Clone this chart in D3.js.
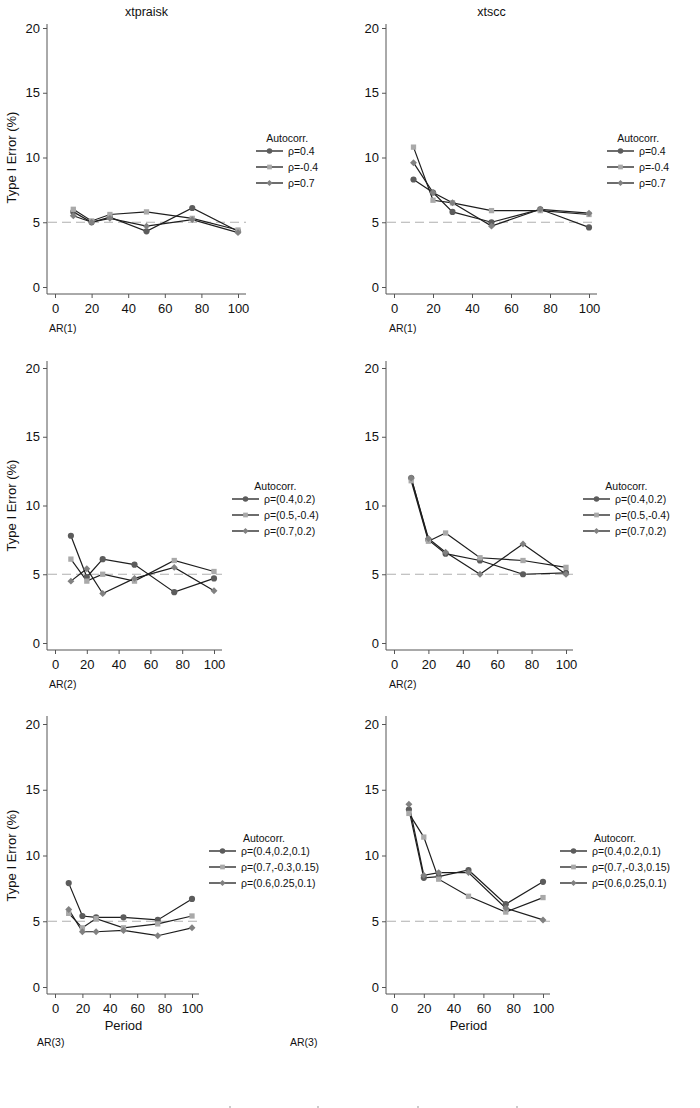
<!DOCTYPE html>
<html>
<head>
<meta charset="utf-8">
<script src="https://cdn.jsdelivr.net/npm/d3@7"></script>
<style>
  html, body { margin: 0; padding: 0; background: #fff; }
  svg { display: block; font-family: "Liberation Sans", Arial, sans-serif; }
</style>
</head>
<body>
<svg id="chart" width="700" height="1108"></svg>
<script>
// x values (panel length T)
const periods = [10, 20, 30, 50, 75, 100];
const yTicks = [0, 5, 10, 15, 20];
const xTicks = [0, 20, 40, 60, 80, 100];

const legendAR1 = ['ρ=0.4', 'ρ=-0.4', 'ρ=0.7'];
const legendAR2 = ['ρ=(0.4,0.2)', 'ρ=(0.5,-0.4)', 'ρ=(0.7,0.2)'];
const legendAR3 = ['ρ=(0.4,0.2,0.1)', 'ρ=(0.7,-0.3,0.15)', 'ρ=(0.6,0.25,0.1)'];

// type I error (%)
const praiskAR1 = [
  [5.8, 5.0, 5.4, 4.3, 6.1, 4.3],
  [6.0, 5.1, 5.6, 5.8, 5.3, 4.4],
  [5.5, 5.0, 5.3, 4.7, 5.2, 4.2]
];
const sccAR1 = [
  [8.3, 7.3, 5.8, 5.0, 6.0, 4.6],
  [10.8, 6.7, 6.5, 5.9, 5.9, 5.6],
  [9.6, 7.3, 6.5, 4.7, 6.0, 5.7]
];
const praiskAR2 = [
  [7.8, 4.8, 6.1, 5.7, 3.7, 4.7],
  [6.1, 4.5, 5.0, 4.5, 6.0, 5.2],
  [4.5, 5.4, 3.6, 4.7, 5.5, 3.8]
];
const sccAR2 = [
  [12.0, 7.5, 6.5, 6.0, 5.0, 5.1],
  [11.8, 7.4, 8.0, 6.2, 6.0, 5.5],
  [12.0, 7.6, 6.6, 5.0, 7.2, 5.0]
];
const praiskAR3 = [
  [7.9, 5.4, 5.3, 5.3, 5.1, 6.7],
  [5.6, 4.5, 5.2, 4.5, 4.8, 5.4],
  [5.9, 4.2, 4.2, 4.3, 3.9, 4.5]
];
const sccAR3 = [
  [13.5, 8.3, 8.4, 8.9, 6.3, 8.0],
  [13.2, 11.4, 8.2, 6.9, 5.7, 6.8],
  [13.9, 8.5, 8.7, 8.7, 6.0, 5.1]
];

// circle, square, diamond (square turned 45 degrees)
const markerShapes = [d3.symbolCircle, d3.symbolSquare, d3.symbolSquare];
const markerTurn = [0, 0, 45];
const markerSizes = [30, 28, 24];
const markerFills = ['#5c5c5c', '#a9a9a9', '#818181'];

const svg = d3.select('#chart');
svg.append('rect').attr('width', 700).attr('height', 1108).attr('fill', '#fff');

// panel geometry
const panels = [
  { data: praiskAR1, labels: legendAR1, title: 'xtpraisk', ar: 'AR(1)', ylab: true,
    ax: 47, x0: 55, x100: 238, xEnd: 246, y0: 287, y20: 28, yTop: 24, arX: 49, arY: 332,
    lx: 256, ly: 151 },
  { data: sccAR1, labels: legendAR1, title: 'xtscc', ar: 'AR(1)', ylab: false,
    ax: 386, x0: 394, x100: 589, xEnd: 597, y0: 287, y20: 28, yTop: 24, arX: 389, arY: 332,
    lx: 607, ly: 151 },
  { data: praiskAR2, labels: legendAR2, title: null, ar: 'AR(2)', ylab: true,
    ax: 47, x0: 55, x100: 214, xEnd: 222, y0: 643, y20: 368, yTop: 361, arX: 49, arY: 688,
    lx: 232, ly: 499 },
  { data: sccAR2, labels: legendAR2, title: null, ar: 'AR(2)', ylab: false,
    ax: 386, x0: 394, x100: 566, xEnd: 573, y0: 643, y20: 368, yTop: 361, arX: 389, arY: 688,
    lx: 583, ly: 499 },
  { data: praiskAR3, labels: legendAR3, title: null, ar: 'AR(3)', ylab: true, period: true,
    ax: 47, x0: 55, x100: 192, xEnd: 199, y0: 987, y20: 724, yTop: 716, arX: 37, arY: 1046,
    lx: 209, ly: 851 },
  { data: sccAR3, labels: legendAR3, title: null, ar: 'AR(3)', ylab: false, period: true,
    ax: 386, x0: 394, x100: 543, xEnd: 550, y0: 987, y20: 724, yTop: 716, arX: 290, arY: 1046,
    lx: 560, ly: 851 }
];

const axisColor = '#555';

function marker(sel, k, scale) {
  sel.attr('d', d3.symbol().type(markerShapes[k]).size(markerSizes[k] * scale))
    .attr('fill', markerFills[k]);
}

panels.forEach(p => {
  const g = svg.append('g');
  const x = d3.scaleLinear().domain([0, 100]).range([p.x0, p.x100]);
  const y = d3.scaleLinear().domain([0, 20]).range([p.y0, p.y20]);
  const axBottom = p.y0 + 7;

  // y axis
  const ya = g.append('g').attr('transform', `translate(${p.ax},0)`)
    .call(d3.axisLeft(y).tickValues(yTicks).tickSize(4).tickPadding(3));
  ya.select('.domain').remove();
  ya.append('line').attr('y1', p.yTop).attr('y2', axBottom).attr('stroke', axisColor);
  ya.selectAll('.tick line').attr('stroke', axisColor);
  ya.selectAll('.tick text').attr('fill', '#111').style('font-size', '13px')
    .style('font-family', '"Liberation Sans", Arial, sans-serif');

  // x axis
  const xa = g.append('g').attr('transform', `translate(0,${axBottom})`)
    .call(d3.axisBottom(x).tickValues(xTicks).tickSize(4).tickPadding(6));
  xa.select('.domain').remove();
  xa.append('line').attr('x1', p.ax).attr('x2', p.xEnd).attr('stroke', axisColor);
  xa.selectAll('.tick line').attr('stroke', axisColor);
  xa.selectAll('.tick text').attr('fill', '#111').style('font-size', '13px')
    .style('font-family', '"Liberation Sans", Arial, sans-serif');

  // 5% reference
  g.append('line')
    .attr('x1', p.ax + 1).attr('x2', p.xEnd)
    .attr('y1', y(5)).attr('y2', y(5))
    .attr('stroke', '#b0b0b0').attr('stroke-width', 1.2)
    .attr('stroke-dasharray', '9,5');

  const line = d3.line().x((d, i) => x(periods[i])).y(d => y(d));

  p.data.forEach(s => {
    g.append('path').datum(s)
      .attr('d', line).attr('fill', 'none')
      .attr('stroke', '#1e1e1e').attr('stroke-width', 1.2);
  });
  p.data.forEach((s, k) => {
    g.selectAll(null).data(s).join('path')
      .attr('transform', (d, i) => `translate(${x(periods[i])},${y(d)}) rotate(${markerTurn[k]})`)
      .call(marker, k, 1);
  });

  if (p.title) {
    g.append('text').attr('x', (p.ax + p.xEnd) / 2).attr('y', 16)
      .attr('text-anchor', 'middle').style('font-size', '12.5px').attr('fill', '#111')
      .text(p.title);
  }
  if (p.ylab) {
    g.append('text')
      .attr('transform', `translate(16,${(p.y0 + p.y20) / 2}) rotate(-90)`)
      .attr('text-anchor', 'middle').style('font-size', '13px').attr('fill', '#111')
      .text('Type I Error (%)');
  }
  if (p.period) {
    g.append('text').attr('x', (p.x0 + p.x100) / 2).attr('y', 1030)
      .attr('text-anchor', 'middle').style('font-size', '13px').attr('fill', '#111')
      .text('Period');
  }
  g.append('text').attr('x', p.arX).attr('y', p.arY)
    .style('font-size', '10.5px').attr('fill', '#111').text(p.ar);

  // legend
  const lg = g.append('g').attr('transform', `translate(${p.lx},${p.ly})`);
  const rows = lg.append('g');
  p.labels.forEach((lab, k) => {
    const row = rows.append('g').attr('transform', `translate(0,${k * 16})`);
    row.append('line').attr('x1', 0).attr('x2', 27)
      .attr('stroke', '#1e1e1e').attr('stroke-width', 1.3);
    row.append('path').attr('transform', `translate(13.5,0) rotate(${markerTurn[k]})`)
      .call(marker, k, 0.8);
    row.append('text').attr('x', 32).attr('y', 4)
      .style('font-size', '10.5px').attr('fill', '#111').text(lab);
  });
  const bb = rows.node().getBBox();
  lg.append('text').attr('x', bb.x + bb.width / 2).attr('y', -9)
    .attr('text-anchor', 'middle').style('font-size', '10.5px').attr('fill', '#111')
    .text('Autocorr.');
});

// small cut-off marks at the bottom edge
const bottomMarks = [230, 318, 418, 517];
svg.selectAll('.bm').data(bottomMarks).join('line')
  .attr('x1', d => d).attr('x2', d => d)
  .attr('y1', 1106).attr('y2', 1108)
  .attr('stroke', '#999').attr('stroke-width', 1);
</script>
</body>
</html>
